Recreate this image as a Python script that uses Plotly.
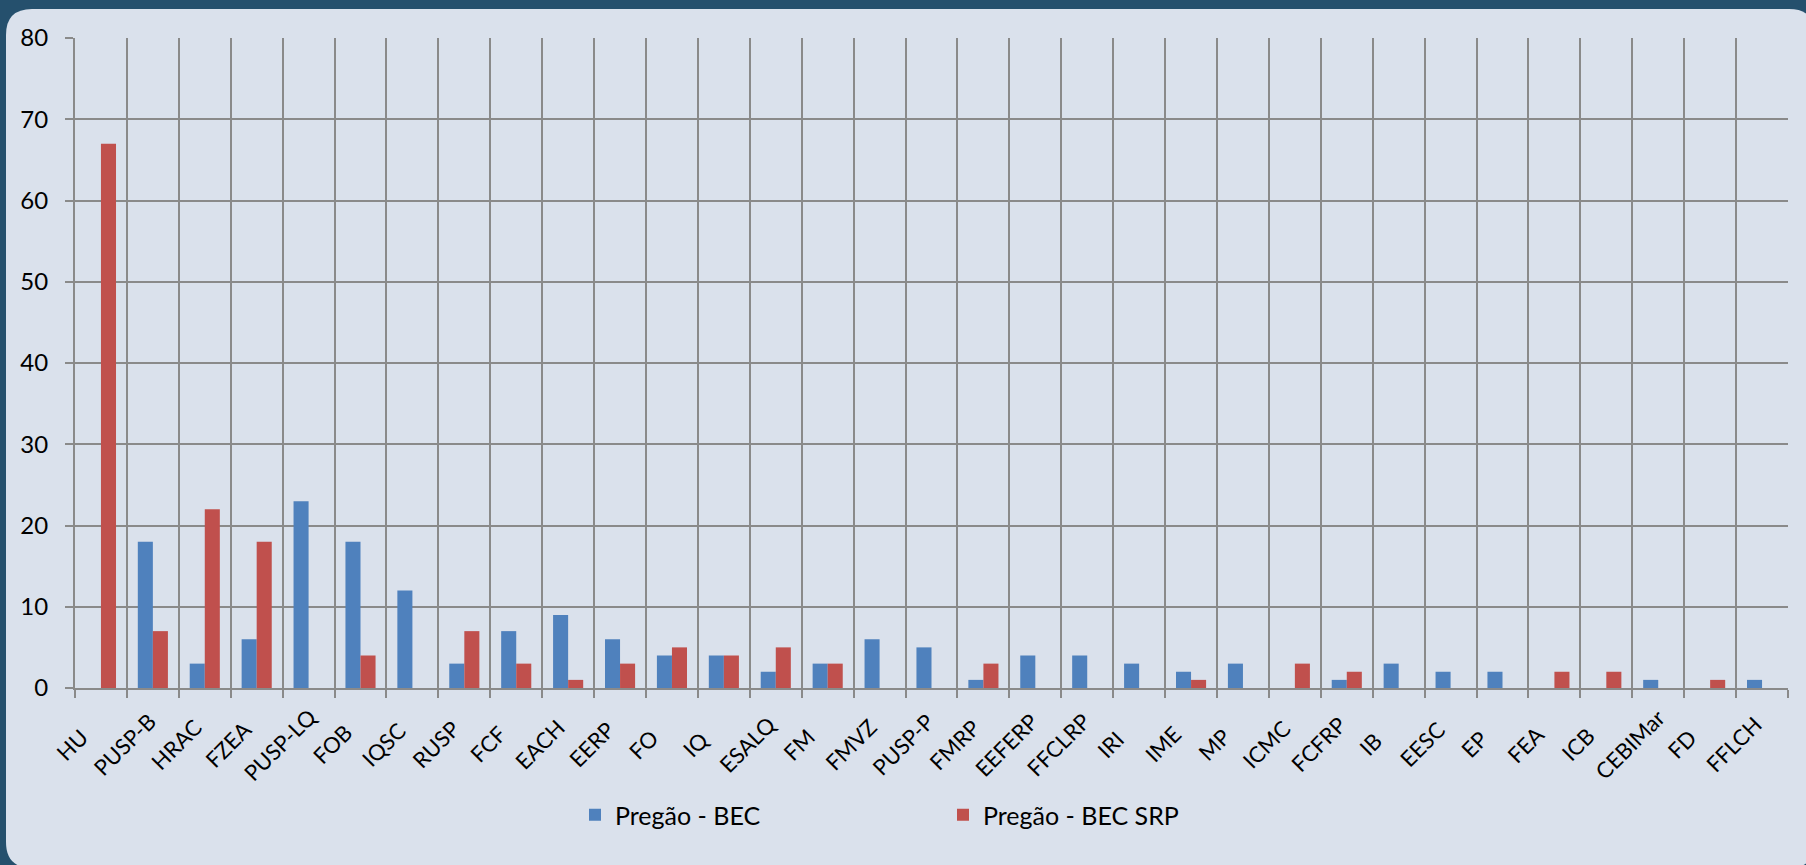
import plotly.graph_objects as go

categories = ["HU", "PUSP-B", "HRAC", "FZEA", "PUSP-LQ", "FOB", "IQSC", "RUSP", "FCF", "EACH",
              "EERP", "FO", "IQ", "ESALQ", "FM", "FMVZ", "PUSP-P", "FMRP", "EEFERP", "FFCLRP",
              "IRI", "IME", "MP", "ICMC", "FCFRP", "IB", "EESC", "EP", "FEA", "ICB",
              "CEBIMar", "FD", "FFLCH"]
pregao_bec = [0, 18, 3, 6, 23, 18, 12, 3, 7, 9,
              6, 4, 4, 2, 3, 6, 5, 1, 4, 4,
              3, 2, 3, 0, 1, 3, 2, 2, 0, 0,
              1, 0, 1]
pregao_bec_srp = [67, 7, 22, 18, 0, 4, 0, 7, 3, 1,
                  3, 5, 4, 5, 3, 0, 0, 3, 0, 0,
                  0, 1, 0, 3, 2, 0, 0, 0, 2, 2,
                  0, 1, 0]
y_ticks = [0, 10, 20, 30, 40, 50, 60, 70, 80]

W, H = 1806, 865
ML, MR, MT, MB = 75, 18, 38, 177
PW = W - ML - MR
PH = H - MT - MB

def px(x):
    return (x - ML) / PW

def py(y):
    return (H - MB - y) / PH

FONT = "Lato, 'Open Sans', sans-serif"
DARK = "#25506d"

fig = go.Figure()
fig.add_trace(go.Bar(x=categories, y=pregao_bec, name="Pregão - BEC",
                     marker=dict(color="#4f81bd", line=dict(width=0))))
fig.add_trace(go.Bar(x=categories, y=pregao_bec_srp, name="Pregão - BEC SRP",
                     marker=dict(color="#c0504d", line=dict(width=0))))

# rounded light panel
x0, y0, x1, y1, r = 6, 9, 1815, 868, 26
path = (f"M {px(x0 + r)},{py(y0)} L {px(x1 - r)},{py(y0)} "
        f"Q {px(x1)},{py(y0)} {px(x1)},{py(y0 + r)} "
        f"L {px(x1)},{py(y1 - r)} Q {px(x1)},{py(y1)} {px(x1 - r)},{py(y1)} "
        f"L {px(x0 + r)},{py(y1)} Q {px(x0)},{py(y1)} {px(x0)},{py(y1 - r)} "
        f"L {px(x0)},{py(y0 + r)} Q {px(x0)},{py(y0)} {px(x0 + r)},{py(y0)} Z")
fig.add_shape(type="path", path=path, xref="paper", yref="paper",
              fillcolor="#dae1ec", line=dict(width=0), layer="below")

# category labels, centre-anchored and rotated like the original
for cat in categories:
    fig.add_annotation(x=cat, xref="x", y=py(744), yref="paper",
                       text=cat, textangle=-45, showarrow=False,
                       xanchor="center", yanchor="middle", xshift=-29,
                       font=dict(family=FONT, size=22, color="#000000"))

fig.update_layout(
    width=W, height=H,
    margin=dict(l=ML, r=MR, t=MT, b=MB, autoexpand=False),
    paper_bgcolor=DARK,
    plot_bgcolor="rgba(0,0,0,0)",
    barmode="group",
    bargap=0.42,
    bargroupgap=0,
    font=dict(family=FONT, size=20, color="#000000"),
    showlegend=True,
    legend=dict(orientation="h", x=px(575), xanchor="left", y=py(815), yanchor="middle",
                entrywidth=323, entrywidthmode="pixels",
                font=dict(family=FONT, size=25, color="#000000"),
                bgcolor="rgba(0,0,0,0)", itemclick=False),
)
fig.update_xaxes(
    type="category", tickson="boundaries",
    showgrid=True, gridcolor="#8a8a8a", gridwidth=2,
    showline=True, linecolor="#8a8a8a", linewidth=2,
    ticks="outside", ticklen=8, tickwidth=2, tickcolor="#8a8a8a",
    showticklabels=False,
    range=[-0.5, len(categories) - 0.5],
)
fig.update_yaxes(
    range=[0, 80], tickvals=y_ticks,
    showgrid=True, gridcolor="#8a8a8a", gridwidth=2,
    showline=True, linecolor="#8a8a8a", linewidth=2,
    zeroline=False,
    ticks="outside", ticklen=8, tickwidth=2, tickcolor="#8a8a8a",
    ticklabelstandoff=12,
    tickfont=dict(family=FONT, size=24, color="#000000"),
)

fig.write_html(
    "out.html",
    config={"displayModeBar": False},
    post_script="document.body.style.margin='0';document.body.style.background='%s';" % DARK,
)
